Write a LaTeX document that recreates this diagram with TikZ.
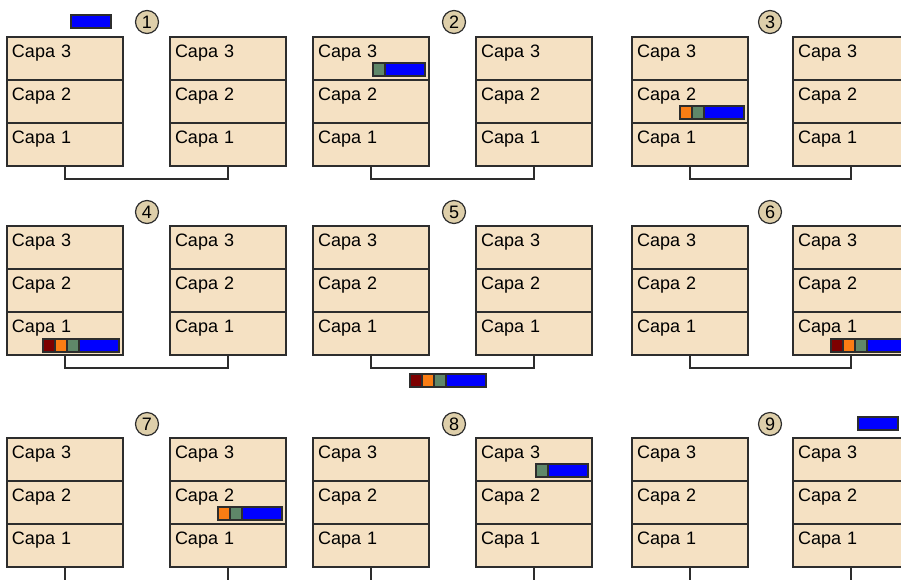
\documentclass[tikz,border=0pt]{standalone}
\usepackage{fontspec}
\setmainfont{Liberation Sans}
\usetikzlibrary{positioning}

\definecolor{layerfill}{RGB}{245,225,195}
\definecolor{edgegray}{RGB}{45,45,45}
\definecolor{badgefill}{RGB}{222,207,170}
\definecolor{segcol}{RGB}{95,135,105}
\definecolor{pktcol}{RGB}{250,125,20}
\definecolor{frmcol}{RGB}{125,0,0}

\begin{document}
\begin{tikzpicture}[
    x=1pt, y=-1pt,
    font=\fontsize{18}{21}\selectfont,
    every node/.style={outer sep=0pt},
    layer/.style={rectangle, draw=edgegray, line width=1.2pt, fill=layerfill, text width=106pt, inner xsep=5pt, inner ysep=4pt, text height=16pt, text depth=19pt, align=left},
    badge/.style={circle, draw=edgegray, line width=1.2pt, fill=badgefill, minimum size=23pt, inner sep=0pt, font=\fontsize{18}{21}\selectfont},
    wire/.style={draw=edgegray, line width=1.2pt},
    payload/.style={rectangle, draw=edgegray, line width=1.2pt, fill=blue, minimum width=40pt, minimum height=13pt, inner sep=0pt},
    hdr/.style={rectangle, draw=edgegray, line width=1.2pt, minimum width=12pt, minimum height=13pt, inner sep=0pt},
    seg/.style={hdr, fill=segcol},
    pkt/.style={hdr, fill=pktcol},
    frm/.style={hdr, fill=frmcol}
]
\path[use as bounding box, clip] (0,0) rectangle (901,579);

% Panel 1
\node[layer, anchor=north west] (p1a3) at (7,37) {Capa 3};
\node[layer, below=0pt of p1a3] (p1a2) {Capa 2};
\node[layer, below=0pt of p1a2] (p1a1) {Capa 1};
\node[layer, anchor=north west] (p1b3) at (170,37) {Capa 3};
\node[layer, below=0pt of p1b3] (p1b2) {Capa 2};
\node[layer, below=0pt of p1b2] (p1b1) {Capa 1};
\node[badge] (n1) at (147,22) {1};
\draw[wire] (p1a1.south) -- ++(0,13) -| (p1b1.south);
\node[payload, above left=9pt and 12pt of p1a3.north east] (d1) {};

% Panel 2
\node[layer, anchor=north west] (p2a3) at (313,37) {Capa 3};
\node[layer, below=0pt of p2a3] (p2a2) {Capa 2};
\node[layer, below=0pt of p2a2] (p2a1) {Capa 1};
\node[layer, anchor=north west] (p2b3) at (476,37) {Capa 3};
\node[layer, below=0pt of p2b3] (p2b2) {Capa 2};
\node[layer, below=0pt of p2b2] (p2b1) {Capa 1};
\node[badge] (n2) at (454,22) {2};
\draw[wire] (p2a1.south) -- ++(0,13) -| (p2b1.south);
\node[payload, above left=4pt and 4pt of p2a3.south east] (d2) {};
\node[seg, left=0pt of d2] (s2) {};

% Panel 3
\node[layer, anchor=north west] (p3a3) at (632,37) {Capa 3};
\node[layer, below=0pt of p3a3] (p3a2) {Capa 2};
\node[layer, below=0pt of p3a2] (p3a1) {Capa 1};
\node[layer, anchor=north west] (p3b3) at (793,37) {Capa 3};
\node[layer, below=0pt of p3b3] (p3b2) {Capa 2};
\node[layer, below=0pt of p3b2] (p3b1) {Capa 1};
\node[badge] (n3) at (770,22) {3};
\draw[wire] (p3a1.south) -- ++(0,13) -| (p3b1.south);
\node[payload, above left=4pt and 4pt of p3a2.south east] (d3) {};
\node[seg, left=0pt of d3] (s3) {};
\node[pkt, left=0pt of s3] (k3) {};

% Panel 4
\node[layer, anchor=north west] (p4a3) at (7,226) {Capa 3};
\node[layer, below=0pt of p4a3] (p4a2) {Capa 2};
\node[layer, below=0pt of p4a2] (p4a1) {Capa 1};
\node[layer, anchor=north west] (p4b3) at (170,226) {Capa 3};
\node[layer, below=0pt of p4b3] (p4b2) {Capa 2};
\node[layer, below=0pt of p4b2] (p4b1) {Capa 1};
\node[badge] (n4) at (147,212) {4};
\draw[wire] (p4a1.south) -- ++(0,13) -| (p4b1.south);
\node[payload, above left=3pt and 4pt of p4a1.south east] (d4) {};
\node[seg, left=0pt of d4] (s4) {};
\node[pkt, left=0pt of s4] (k4) {};
\node[frm, left=0pt of k4] (f4) {};

% Panel 5
\node[layer, anchor=north west] (p5a3) at (313,226) {Capa 3};
\node[layer, below=0pt of p5a3] (p5a2) {Capa 2};
\node[layer, below=0pt of p5a2] (p5a1) {Capa 1};
\node[layer, anchor=north west] (p5b3) at (476,226) {Capa 3};
\node[layer, below=0pt of p5b3] (p5b2) {Capa 2};
\node[layer, below=0pt of p5b2] (p5b1) {Capa 1};
\node[badge] (n5) at (454,212) {5};
\draw[wire] (p5a1.south) -- ++(0,13) coordinate (p5bus) -| (p5b1.south);
\node[payload, below right=6pt and 75pt of p5bus] (d5) {};
\node[seg, left=0pt of d5] (s5) {};
\node[pkt, left=0pt of s5] (k5) {};
\node[frm, left=0pt of k5] (f5) {};

% Panel 6
\node[layer, anchor=north west] (p6a3) at (632,226) {Capa 3};
\node[layer, below=0pt of p6a3] (p6a2) {Capa 2};
\node[layer, below=0pt of p6a2] (p6a1) {Capa 1};
\node[layer, anchor=north west] (p6b3) at (793,226) {Capa 3};
\node[layer, below=0pt of p6b3] (p6b2) {Capa 2};
\node[layer, below=0pt of p6b2] (p6b1) {Capa 1};
\node[badge] (n6) at (770,212) {6};
\draw[wire] (p6a1.south) -- ++(0,13) -| (p6b1.south);
\node[payload, above left=3pt and 2pt of p6b1.south east] (d6) {};
\node[seg, left=0pt of d6] (s6) {};
\node[pkt, left=0pt of s6] (k6) {};
\node[frm, left=0pt of k6] (f6) {};

% Panel 7
\node[layer, anchor=north west] (p7a3) at (7,438) {Capa 3};
\node[layer, below=0pt of p7a3] (p7a2) {Capa 2};
\node[layer, below=0pt of p7a2] (p7a1) {Capa 1};
\node[layer, anchor=north west] (p7b3) at (170,438) {Capa 3};
\node[layer, below=0pt of p7b3] (p7b2) {Capa 2};
\node[layer, below=0pt of p7b2] (p7b1) {Capa 1};
\node[badge] (n7) at (147,424) {7};
\draw[wire] (p7a1.south) -- ++(0,16) -| (p7b1.south);
\node[payload, above left=4pt and 4pt of p7b2.south east] (d7) {};
\node[seg, left=0pt of d7] (s7) {};
\node[pkt, left=0pt of s7] (k7) {};

% Panel 8
\node[layer, anchor=north west] (p8a3) at (313,438) {Capa 3};
\node[layer, below=0pt of p8a3] (p8a2) {Capa 2};
\node[layer, below=0pt of p8a2] (p8a1) {Capa 1};
\node[layer, anchor=north west] (p8b3) at (476,438) {Capa 3};
\node[layer, below=0pt of p8b3] (p8b2) {Capa 2};
\node[layer, below=0pt of p8b2] (p8b1) {Capa 1};
\node[badge] (n8) at (454,424) {8};
\draw[wire] (p8a1.south) -- ++(0,16) -| (p8b1.south);
\node[payload, above left=4pt and 4pt of p8b3.south east] (d8) {};
\node[seg, left=0pt of d8] (s8) {};

% Panel 9
\node[layer, anchor=north west] (p9a3) at (632,438) {Capa 3};
\node[layer, below=0pt of p9a3] (p9a2) {Capa 2};
\node[layer, below=0pt of p9a2] (p9a1) {Capa 1};
\node[layer, anchor=north west] (p9b3) at (793,438) {Capa 3};
\node[layer, below=0pt of p9b3] (p9b2) {Capa 2};
\node[layer, below=0pt of p9b2] (p9b1) {Capa 1};
\node[badge] (n9) at (770,424) {9};
\draw[wire] (p9a1.south) -- ++(0,16) -| (p9b1.south);
\node[payload, above left=8pt and 11pt of p9b3.north east] (d9) {};

\end{tikzpicture}
\end{document}
